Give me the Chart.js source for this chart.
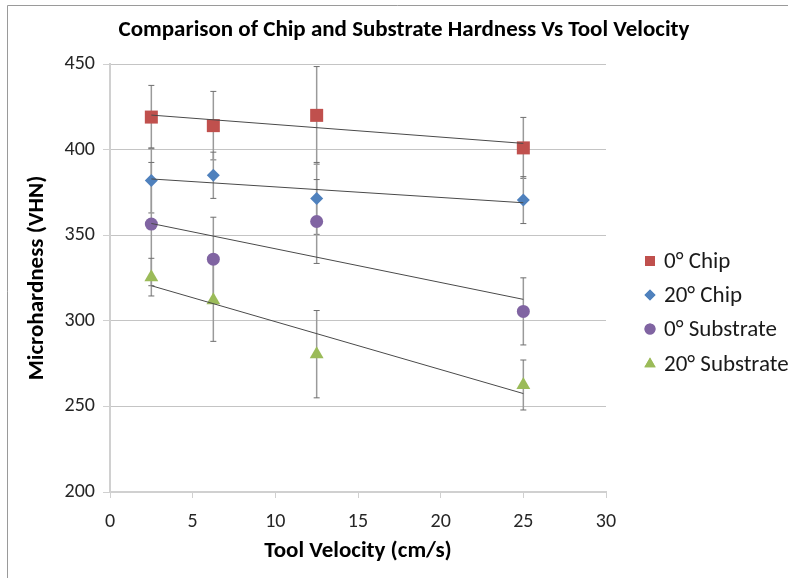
<!DOCTYPE html>
<html lang="en">
<head>
    <meta charset="UTF-8">
    <title>Comparison of Chip and Substrate Hardness Vs Tool Velocity</title>
    <script src="https://cdn.jsdelivr.net/npm/chart.js"></script>
    <style>
        html, body { margin: 0; padding: 0; background: #fff; }
        #wrap { width: 788px; height: 578px; }
    </style>
</head>
<body>
<div id="wrap"><canvas id="hardnessChart" width="788" height="578"></canvas></div>
<script>
    // tool velocity (cm/s)
    const velocities = [2.5, 6.25, 12.5, 25];

    // microhardness (VHN), with the error bar half-lengths
    const chip0 = [419, 414, 420, 401];
    const chip0Err = [18.5, 20, 28.5, 17.8];
    const chip20 = [382, 385, 371.5, 370.5];
    const chip20Err = [19, 13.5, 21, 13.7];
    const sub0 = [356.5, 336, 358, 305.5];
    const sub0Err = [36, 24.5, 24.5, 19.6];
    const sub20 = [325.5, 312, 280.5, 262.5];
    const sub20Err = [11, 24, 25.5, 14.6];

    const seriesNames = ['0° Chip', '20° Chip', '0° Substrate', '20° Substrate'];
    const xTicks = [0, 5, 10, 15, 20, 25, 30];
    const yTicks = [200, 250, 300, 350, 400, 450];

    const chartTitle = 'Comparison of Chip and Substrate Hardness Vs Tool Velocity';
    const FONT = 'Carlito, Lato, "Liberation Sans", sans-serif';

    const series = [
        { name: seriesNames[0], ys: chip0, err: chip0Err, color: '#C0504D', style: 'rect', radius: 9.2 },
        { name: seriesNames[1], ys: chip20, err: chip20Err, color: '#4F81BD', style: 'rectRot', radius: 6.5 },
        { name: seriesNames[2], ys: sub0, err: sub0Err, color: '#8064A2', style: 'circle', radius: 6.5 },
        { name: seriesNames[3], ys: sub20, err: sub20Err, color: '#9BBB59', style: 'triangle', radius: 8 }
    ];

    // least squares line through each series, drawn as a linear trendline
    function trend(xs, ys) {
        const n = xs.length;
        const mx = xs.reduce((a, b) => a + b, 0) / n;
        const my = ys.reduce((a, b) => a + b, 0) / n;
        let sxy = 0, sxx = 0;
        for (let i = 0; i < n; i++) {
            sxy += (xs[i] - mx) * (ys[i] - my);
            sxx += (xs[i] - mx) * (xs[i] - mx);
        }
        const slope = sxy / sxx;
        const x0 = xs[0], x1 = xs[n - 1];
        return [{ x: x0, y: my + slope * (x0 - mx) }, { x: x1, y: my + slope * (x1 - mx) }];
    }

    const datasets = [];
    series.forEach(s => {
        datasets.push({
            type: 'scatter',
            label: s.name,
            data: velocities.map((x, i) => ({ x: x, y: s.ys[i] })),
            errors: s.err,
            pointStyle: s.style,
            pointRadius: s.radius,
            backgroundColor: s.color,
            borderColor: s.color,
            borderWidth: 0,
            order: 2
        });
    });
    series.forEach(s => {
        datasets.push({
            type: 'line',
            label: s.name + ' trend',
            isTrend: true,
            data: trend(velocities, s.ys),
            borderColor: '#4a4a4a',
            borderWidth: 1,
            pointRadius: 0,
            fill: false,
            order: 1
        });
    });

    // vertical error bars with small caps, under the markers
    const errorBars = {
        id: 'errorBars',
        beforeDatasetsDraw(chart) {
            const ctx = chart.ctx;
            const xs = chart.scales.x, ys = chart.scales.y;
            ctx.save();
            chart.data.datasets.forEach(ds => {
                if (!ds.errors) return;
                ds.data.forEach((p, i) => {
                    const px = xs.getPixelForValue(p.x);
                    const top = ys.getPixelForValue(p.y + ds.errors[i]);
                    const bot = ys.getPixelForValue(p.y - ds.errors[i]);
                    ctx.strokeStyle = '#9a9a9a';
                    ctx.lineWidth = 1.5;
                    ctx.beginPath();
                    ctx.moveTo(px, top);
                    ctx.lineTo(px, bot);
                    ctx.stroke();
                    ctx.strokeStyle = '#6e6e6e';
                    ctx.lineWidth = 1;
                    ctx.beginPath();
                    ctx.moveTo(px - 3, top);
                    ctx.lineTo(px + 3, top);
                    ctx.moveTo(px - 3, bot);
                    ctx.lineTo(px + 3, bot);
                    ctx.stroke();
                });
            });
            ctx.restore();
        }
    };

    // outer frame (left and top edges), the title across the whole width, and the legend
    const frameAndLegend = {
        id: 'frameAndLegend',
        afterDraw(chart) {
            const ctx = chart.ctx;
            ctx.save();
            ctx.strokeStyle = '#9a9a9a';
            ctx.lineWidth = 1;
            ctx.beginPath();
            ctx.moveTo(7.5, 578);
            ctx.lineTo(7.5, 5.5);
            ctx.lineTo(788, 5.5);
            ctx.stroke();

            ctx.fillStyle = '#000';
            ctx.font = 'bold 23px ' + FONT;
            ctx.textAlign = 'center';
            ctx.textBaseline = 'middle';
            ctx.fillText(chartTitle, 404, 30);

            const rowY = [261, 295, 329, 364];
            const legendSizes = [7, 5.5, 5.5, 6.5];
            chart.data.datasets.filter(d => !d.isTrend).forEach((ds, i) => {
                ctx.fillStyle = ds.backgroundColor;
                ctx.strokeStyle = ds.backgroundColor;
                Chart.helpers.drawPoint(ctx, {
                    pointStyle: ds.pointStyle,
                    radius: legendSizes[i],
                    rotation: 0,
                    borderWidth: 0
                }, 650, rowY[i]);
                ctx.fill();
                ctx.fillStyle = '#1a1a1a';
                ctx.font = '23px ' + FONT;
                ctx.textAlign = 'left';
                ctx.textBaseline = 'middle';
                ctx.fillText(ds.label, 664, rowY[i] + 1);
            });
            ctx.restore();
        }
    };

    const ctx = document.getElementById('hardnessChart').getContext('2d');
    new Chart(ctx, {
        data: { datasets: datasets },
        options: {
            responsive: false,
            animation: false,
            layout: { padding: { left: 0, right: 182, top: 64, bottom: 0 } },
            plugins: {
                legend: { display: false },
                tooltip: { enabled: false },
                title: { display: false }
            },
            scales: {
                x: {
                    type: 'linear',
                    min: 0,
                    max: 30,
                    afterFit: scale => { scale.height = 86; },
                    afterBuildTicks: scale => { scale.ticks = xTicks.map(v => ({ value: v })); },
                    ticks: { color: '#262626', font: { family: FONT, size: 20 }, padding: 12 },
                    grid: { drawOnChartArea: false, drawTicks: true, tickLength: 6, color: '#d0d0d0' },
                    border: { color: '#d0d0d0', width: 2 },
                    title: {
                        display: true,
                        text: 'Tool Velocity (cm/s)',
                        color: '#000',
                        font: { family: FONT, size: 23, weight: 'bold' },
                        padding: { top: 0, bottom: 13 }
                    }
                },
                y: {
                    type: 'linear',
                    min: 200,
                    max: 450,
                    afterFit: scale => { scale.width = 110; },
                    afterBuildTicks: scale => { scale.ticks = yTicks.map(v => ({ value: v })); },
                    ticks: { color: '#262626', font: { family: FONT, size: 20 }, padding: 8 },
                    grid: { color: '#c4c4c4', tickColor: '#d0d0d0', tickLength: 7 },
                    border: { color: '#d0d0d0', width: 2 },
                    title: {
                        display: true,
                        text: 'Microhardness (VHN)',
                        color: '#000',
                        font: { family: FONT, size: 23, weight: 'bold' },
                        padding: { top: 23, bottom: 0 }
                    }
                }
            }
        },
        plugins: [errorBars, frameAndLegend]
    });
</script>
</body>
</html>
